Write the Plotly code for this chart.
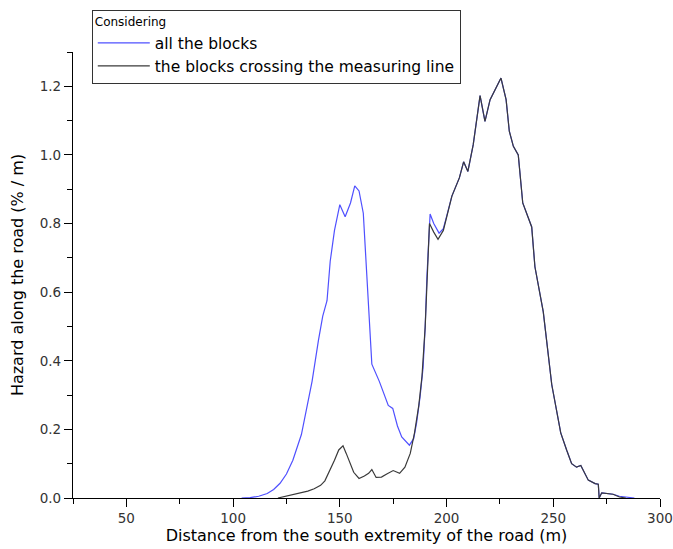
import plotly.graph_objects as go

# "all the blocks" series
all_x = [104, 108, 112, 116, 119, 122, 125, 128, 132, 135, 137, 140, 142, 144, 145.5,
         147.5, 150, 152.5, 155, 157, 159, 161, 163, 165, 168.5, 172.7, 174.8, 177, 179,
         182.6, 184.6, 186, 187.6, 189, 190, 190.8, 192.3, 194, 196.5, 198.5, 200, 202.5,
         206, 208, 210, 212.5, 215.7, 218, 220.4, 222.7, 225.5, 227.9, 229.4, 231.3,
         233.6, 235.7, 237.5, 239.9, 241.4, 245.3, 249.3, 253.5, 256.3, 258.6, 260.9,
         262.9, 266.4, 269.6, 271.1, 271.5, 272.7, 278, 281, 284, 288]
all_y = [0.0, 0.001, 0.005, 0.013, 0.025, 0.043, 0.07, 0.11, 0.185, 0.28, 0.34, 0.46,
         0.53, 0.575, 0.69, 0.78, 0.855, 0.82, 0.86, 0.91, 0.895, 0.83, 0.6, 0.39, 0.34,
         0.27, 0.261, 0.21, 0.178, 0.154, 0.173, 0.22, 0.295, 0.38, 0.5, 0.645, 0.828,
         0.8, 0.772, 0.785, 0.82, 0.88, 0.933, 0.98, 0.952, 1.03, 1.173, 1.098, 1.161,
         1.19, 1.224, 1.161, 1.069, 1.025, 1.0, 0.86, 0.83, 0.79, 0.674, 0.543, 0.33,
         0.19, 0.139, 0.1, 0.09, 0.095, 0.052, 0.042, 0.04, 0.0, 0.015, 0.011, 0.005,
         0.002, 0.0]

# "the blocks crossing the measuring line" series
cross_x = [121, 124, 127, 131, 135, 138, 141, 143, 145, 147.5, 149.5, 151.5, 153, 154.5,
           156.5, 159, 161.5, 163.5, 165, 167, 169.5, 172, 175, 178, 180.5, 183, 185, 187,
           188.5, 190, 190.8, 192, 194, 196, 198.5, 200, 202.5, 206, 208, 210, 212.5,
           215.7, 218, 220.4, 222.7, 225.5, 227.9, 229.4, 231.3, 233.6, 235.7, 237.5,
           239.9, 241.4, 245.3, 249.3, 253.5, 256.3, 258.6, 260.9, 262.9, 266.4, 269.6,
           271.1, 271.5, 272.7, 278, 281, 284]
cross_y = [0.0, 0.004, 0.008, 0.014, 0.02, 0.027, 0.037, 0.05, 0.075, 0.11, 0.14, 0.152,
           0.13, 0.105, 0.075, 0.057, 0.064, 0.072, 0.083, 0.06, 0.061, 0.07, 0.08, 0.072,
           0.09, 0.13, 0.19, 0.27, 0.355, 0.5, 0.645, 0.8, 0.775, 0.754, 0.78, 0.82, 0.88,
           0.933, 0.98, 0.952, 1.03, 1.173, 1.098, 1.161, 1.19, 1.224, 1.161, 1.069, 1.025,
           1.0, 0.86, 0.83, 0.79, 0.674, 0.543, 0.33, 0.19, 0.139, 0.1, 0.09, 0.095,
           0.052, 0.042, 0.04, 0.0, 0.015, 0.011, 0.003, 0.0]

x_ticks = [50, 100, 150, 200, 250, 300]
y_ticks = [0.0, 0.2, 0.4, 0.6, 0.8, 1.0, 1.2]

FONT = "DejaVu Sans"

fig = go.Figure()
fig.add_trace(go.Scatter(x=all_x, y=all_y, mode="lines", name="all the blocks",
                         line=dict(color="#4f50ff", width=1.2)))
fig.add_trace(go.Scatter(x=cross_x, y=cross_y, mode="lines",
                         name="the blocks crossing the measuring line",
                         line=dict(color="#3a3a3a", width=1.2)))

axis_common = dict(showline=True, linecolor="black", linewidth=1.3, showgrid=False,
                   zeroline=False, ticks="outside", ticklen=8, tickwidth=1.3,
                   tickcolor="black", automargin=False,
                   tickfont=dict(family=FONT, size=13.5, color="#333"))

fig.update_xaxes(range=[25, 300], tickmode="array", tickvals=x_ticks,
                 ticktext=[str(v) for v in x_ticks],
                 minor=dict(ticks="outside", ticklen=5, tickwidth=1.3, tickcolor="black",
                            dtick=25, tick0=0),
                 title=dict(text="Distance from the south extremity of the road (m)",
                            font=dict(family=FONT, size=16, color="black"), standoff=2),
                 **axis_common)
fig.update_yaxes(range=[0, 1.3], tickmode="array", tickvals=y_ticks,
                 ticktext=[f"{v:.1f}" for v in y_ticks],
                 minor=dict(ticks="outside", ticklen=5, tickwidth=1.3, tickcolor="black",
                            dtick=0.1, tick0=0),
                 title=dict(text="Hazard along the road (% / m)",
                            font=dict(family=FONT, size=16, color="black"), standoff=12),
                 **axis_common)

fig.update_layout(
    width=673, height=549,
    margin=dict(l=73, r=13, t=52, b=51, autoexpand=False),
    paper_bgcolor="white", plot_bgcolor="white",
    showlegend=True,
    legend=dict(title=dict(text="Considering", font=dict(family=FONT, size=12, color="black"),
                           side="top"),
                x=0.032, y=1.095, xanchor="left", yanchor="top",
                bordercolor="#333", borderwidth=1, bgcolor="white",
                font=dict(family=FONT, size=15.5, color="black"),
                tracegroupgap=0, itemwidth=52),
)

fig.write_html("out.html",
               config={"displayModeBar": False},
               post_script="document.body.style.margin='0';"
                           "document.body.style.overflow='hidden';")
